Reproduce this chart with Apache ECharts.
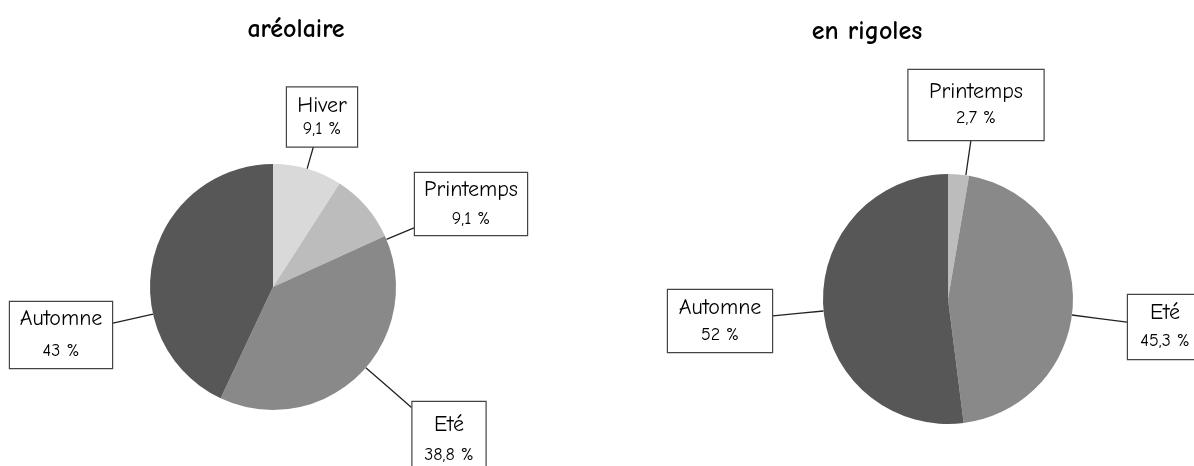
<!DOCTYPE html>
<html>
<head>
<meta charset="utf-8">
<script src="https://cdn.jsdelivr.net/npm/echarts@6/dist/echarts.min.js"></script>
<style>
html,body{margin:0;padding:0;background:#fff;}
#chart{width:1194px;height:466px;}
</style>
</head>
<body>
<div id="chart"></div>
<script>
// ---- data ----
const titles = ['aréolaire', 'en rigoles'];
const areolaireNames = ['Hiver', 'Printemps', 'Eté', 'Automne'];
const areolaireValues = [9.1, 9.1, 38.8, 43];
const rigolesNames = ['Printemps', 'Eté', 'Automne'];
const rigolesValues = [2.7, 45.3, 52];

// ---- styles / layout (not data) ----
const FONT = '"Comic Sans MS", "Comic Neue", "Open Sans", sans-serif';
const seasonColors = { 'Hiver': '#d9d9d9', 'Printemps': '#bcbcbc', 'Eté': '#898989', 'Automne': '#575757' };
const pieGeom = [ { center: [273, 287], r: 123 }, { center: [948, 299], r: 125 } ];
// label box: center x, center y, width, height, line gap
const labelBoxes = [
  { 'Hiver': [322, 117, 72, 59, 23], 'Printemps': [471, 204, 114, 62, 29], 'Eté': [449, 440, 75, 76, 30], 'Automne': [61, 335, 104, 66, 32] },
  { 'Printemps': [976, 105, 137, 70, 26], 'Eté': [1165, 327, 76, 64, 28], 'Automne': [720, 321, 106, 62, 27] }
];

function fmt(v) { return String(v).replace('.', ','); }

// intersection of the segment (pie centre -> box centre) with the box edge
function boxAttach(c, b) {
  const bx = b[0], by = b[1], hw = b[2] / 2, hh = b[3] / 2;
  const dx = c[0] - bx, dy = c[1] - by;
  const tx = dx !== 0 ? hw / Math.abs(dx) : Infinity;
  const ty = dy !== 0 ? hh / Math.abs(dy) : Infinity;
  const t = Math.min(tx, ty);
  return [bx + dx * t, by + dy * t];
}

function buildData(names, values, seriesIdx) {
  return names.map((n, i) => {
    const b = labelBoxes[seriesIdx][n];
    const gap = b[4];
    const padV = Math.max(0, (b[3] - 2 * gap) / 2);
    return {
      name: n,
      value: values[i],
      itemStyle: { color: seasonColors[n] },
      label: {
        width: b[2] - 2,
        padding: [padV, 0, padV, 0],
        rich: {
          n: { fontFamily: FONT, fontSize: 22, color: '#000', lineHeight: gap, align: 'center' },
          v: { fontFamily: FONT, fontSize: 18, color: '#000', lineHeight: gap, align: 'center' }
        }
      }
    };
  });
}

function pieSeries(names, values, idx) {
  const g = pieGeom[idx];
  return {
    type: 'pie',
    center: g.center,
    radius: g.r,
    startAngle: 90,
    clockwise: true,
    avoidLabelOverlap: false,
    animation: false,
    silent: true,
    itemStyle: { borderWidth: 0 },
    label: {
      show: true,
      position: 'outside',
      formatter: p => '{n|' + p.name + '}\n{v|' + fmt(p.value) + ' %}',
      backgroundColor: '#fff',
      borderColor: '#444',
      borderWidth: 1.2
    },
    labelLine: { show: true, length: 10, length2: 0, smooth: false, lineStyle: { color: '#222', width: 1.3 } },
    labelLayout: function (params) {
      const nm = names[params.dataIndex];
      const b = labelBoxes[idx][nm];
      const a = boxAttach(g.center, b);
      const dx = a[0] - g.center[0], dy = a[1] - g.center[1];
      const d = Math.sqrt(dx * dx + dy * dy);
      const p = [g.center[0] + dx / d * g.r, g.center[1] + dy / d * g.r];
      return {
        x: b[0], y: b[1], align: 'center', verticalAlign: 'middle',
        labelLinePoints: [p, [(p[0] + a[0]) / 2, (p[1] + a[1]) / 2], a]
      };
    },
    data: buildData(names, values, idx)
  };
}

const chart = echarts.init(document.getElementById('chart'), null, { renderer: 'canvas' });
chart.setOption({
  backgroundColor: '#fff',
  animation: false,
  title: [
    { text: titles[0], left: 291, top: 12, textAlign: 'center', textStyle: { fontFamily: FONT, fontSize: 26, fontWeight: 'bold', color: '#000' } },
    { text: titles[1], left: 862, top: 14, textAlign: 'center', textStyle: { fontFamily: FONT, fontSize: 26, fontWeight: 'bold', color: '#000' } }
  ],
  series: [
    pieSeries(areolaireNames, areolaireValues, 0),
    pieSeries(rigolesNames, rigolesValues, 1)
  ]
});
</script>
</body>
</html>
